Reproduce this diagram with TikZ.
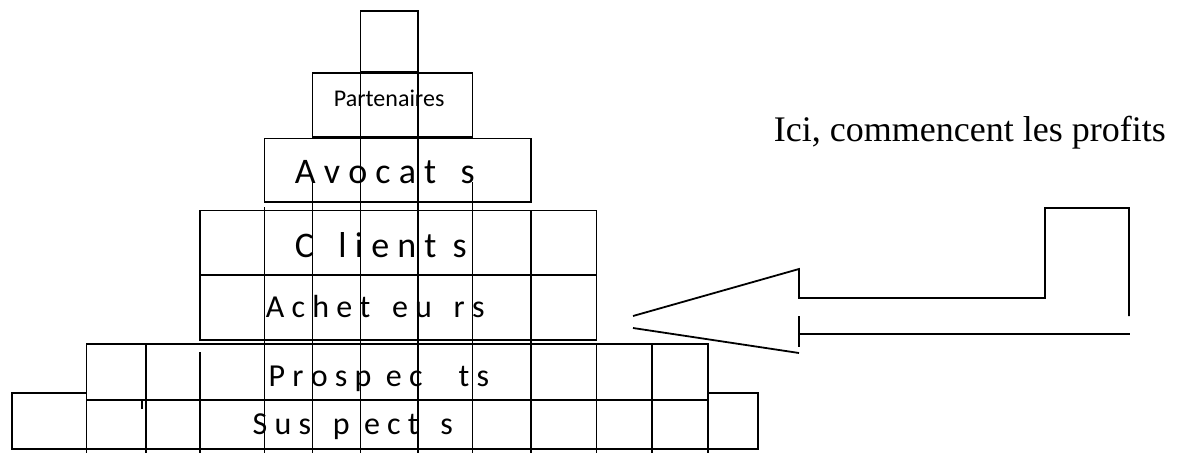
\documentclass[tikz,border=0pt]{standalone}
\usepackage{fontspec}
\newfontfamily\labelfont{Carlito}
\newfontfamily\notefont{Liberation Serif}
\usetikzlibrary{positioning}

\begin{document}
\begin{tikzpicture}[x=1pt,y=-1pt,line width=1.8pt,line join=miter,
  tier/.style={draw,fill=white},
  word/.style={anchor=base west,inner sep=0pt,
    font=\labelfont\fontsize{32}{36}\selectfont},
  bigword/.style={word,font=\labelfont\fontsize{36}{40}\selectfont}]
  \useasboundingbox (0,0) rectangle (1189,453);

  % levels of the pyramid, bottom first
  \draw[tier] (11.7,393.3)  rectangle (757.7,449.3);
  \draw[tier] (86.5,344.3)  rectangle (708.3,400.3);
  \draw[tier] (200,275)     rectangle (596.5,340);
  \draw[tier] (200,210.5)   rectangle (596.5,275);
  \draw[tier] (264.5,138.5) rectangle (531,201.7);
  \draw[tier] (312.5,73.3)  rectangle (472.5,137.3);
  \draw[tier] (360.5,10.7)  rectangle (418.3,72.3);

  \node[word,font=\labelfont\fontsize{24}{28}\selectfont]
        (part) at (333,106.7) {Partenaires};
  \node[bigword] (avo) at (294,183) {A~v~o~c~a~t~~~s};
  \node[bigword] (cli) at (294,257) {C~~~l~i~e~n~t~~s};
  \node[word]    (ach) at (265,317) {A~c~h~e~t~~~e~u~~~r~s};
  \node[word]    (pro) at (267.7,386) {P~r~o~s~p~~e~c~~~~~t~s};
  \node[word]    (sus) at (251.7,434) {S~u~s~~~p~~e~c~t~~~s};

  % vertical rules running down to the bottom edge
  \foreach \x/\y in {86.5/400.3, 146/344.3, 200/352, 264.5/207,
                     312.5/182, 360.5/72.3, 418.3/72.3, 472.5/182,
                     531/210.5, 596.5/344.3, 652.3/344.3, 708.3/400.3}
    \draw (\x,\y) -- (\x,453);
  \draw (142,401) -- (142,409);

  \node[anchor=base west,inner sep=0pt,
        font=\notefont\fontsize{36}{40}\selectfont]
        (note) at (773,141) {Ici, commencent les profits};

  % hollow arrow pointing back at the pyramid
  \draw (633,316) -- (799,269) -- (799,298) -- (1045,298)
        -- (1045,208) -- (1129,208) -- (1129,316);
  \draw (633,328) -- (799,353);
  \draw (799,316) -- (799,347);
  \draw (799,334) -- (1130,334);
\end{tikzpicture}
\end{document}
